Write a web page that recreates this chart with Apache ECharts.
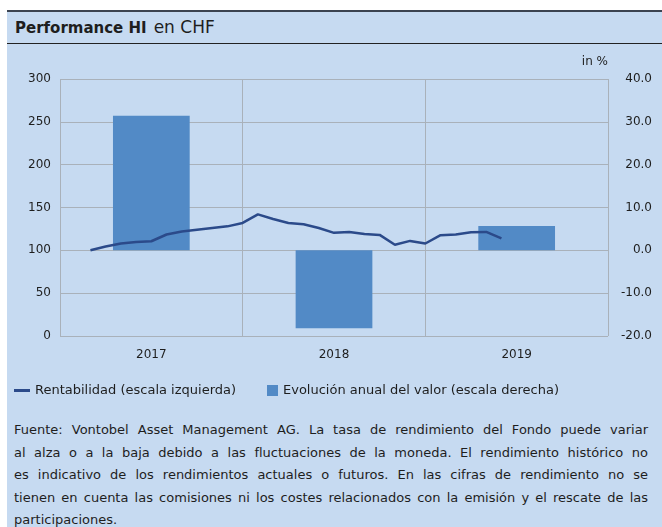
<!DOCTYPE html>
<html lang="es">
  <head>
    <meta charset="UTF-8" />
    <title>Performance HI en CHF</title>
    <script src="https://cdn.jsdelivr.net/npm/echarts@6.0.0/dist/echarts.min.js"></script>
    <style>
      body { margin: 0; background: #fff; font-family: 'DejaVu Sans', sans-serif; color: #1e1e1e; }
      #panel { position: absolute; left: 7px; top: 10px; width: 655px; height: 517px; background: #c6daf1; }
      #head { position: absolute; left: 7px; top: 10px; width: 655px; height: 31px; border-top: 2px solid #3b4350; border-bottom: 1px solid #222; }
      #head span { position: absolute; left: 8px; top: 5px; white-space: nowrap; }
      #head b { font-size: 15px; }
      #head i { font-style: normal; font-size: 17px; margin-left: 7px; }
      #chart { position: absolute; left: 0; top: 0; width: 662px; height: 410px; }
      #foot { position: absolute; left: 14px; top: 419px; width: 634px; font-size: 13px; line-height: 22.5px; }
      #foot div { text-align: justify; text-align-last: justify; white-space: nowrap; }
      #foot div.last { text-align-last: left; }
    </style>
  </head>
  <body>
    <div id="panel"></div>
    <div id="head"><span><b>Performance HI</b><i>en CHF</i></span></div>
    <div id="chart"></div>
    <div id="foot">
      <div>Fuente: Vontobel Asset Management AG. La tasa de rendimiento del Fondo puede variar</div>
      <div>al alza o a la baja debido a las fluctuaciones de la moneda. El rendimiento histórico no</div>
      <div>es indicativo de los rendimientos actuales o futuros. En las cifras de rendimiento no se</div>
      <div>tienen en cuenta las comisiones ni los costes relacionados con la emisión y el rescate de las</div>
      <div class="last">participaciones.</div>
    </div>
    <script>
      // años (categorías) y evolución anual en %
      var years = ['2017', '2018', '2019']
      var yearlyPerf = [31.4, -18.2, 5.7]
      // rentabilidad mensual indexada (primer mes = 2, contando desde ene 2017)
      var firstMonth = 2
      var perfIndex = [
        100, 104.5, 108, 109.6, 110.6, 118.5, 122, 124, 126, 128, 132, 142,
        136.5, 132, 130.4, 126, 120.4, 121.5, 119, 118, 106.5, 111, 108,
        117.7, 118.5, 121, 121.5, 114
      ]
      var lineName = 'Rentabilidad (escala izquierda)'
      var barName = 'Evolución anual del valor (escala derecha)'

      var linePoints = perfIndex.map(function (v, i) {
        return [firstMonth + i, v]
      })

      var txt = { color: '#1e1e1e', fontFamily: 'DejaVu Sans', fontSize: 12 }
      var legTxt = { color: '#1e1e1e', fontFamily: 'DejaVu Sans', fontSize: 13 }
      var grid = '#a9b1ba'

      var myChart = echarts.init(document.getElementById('chart'))
      var option = {
        animation: false,
        textStyle: { fontFamily: 'DejaVu Sans' },
        grid: { left: 60, right: 54, top: 79, bottom: 74, containLabel: false },
        legend: [
          {
            data: [lineName],
            left: 14, top: 384, padding: 0,
            icon: 'rect', itemWidth: 16, itemHeight: 3, itemGap: 6,
            textStyle: legTxt
          },
          {
            data: [barName],
            left: 267, top: 384, padding: 0,
            icon: 'rect', itemWidth: 11, itemHeight: 11, itemGap: 5,
            textStyle: legTxt
          }
        ],
        xAxis: [
          {
            type: 'category',
            data: years,
            axisLine: { show: false },
            axisTick: { show: false },
            axisLabel: Object.assign({ margin: 13 }, txt),
            splitLine: { show: true, lineStyle: { color: grid, width: 1 } }
          },
          { type: 'value', min: 0, max: 36, show: false }
        ],
        yAxis: [
          {
            type: 'value', min: 0, max: 300, interval: 50,
            axisLine: { show: false }, axisTick: { show: false },
            axisLabel: Object.assign({ margin: 9 }, txt),
            splitLine: { lineStyle: { color: grid, width: 1 } }
          },
          {
            type: 'value', min: -20, max: 40, interval: 10, position: 'right',
            name: 'in %', nameGap: 11,
            nameTextStyle: Object.assign({ align: 'right' }, txt),
            axisLine: { show: false }, axisTick: { show: false },
            axisLabel: Object.assign({ margin: 44, align: 'right', formatter: function (v) { return v.toFixed(1) } }, txt),
            splitLine: { show: false }
          }
        ],
        series: [
          {
            name: barName,
            type: 'bar',
            xAxisIndex: 0, yAxisIndex: 1,
            data: yearlyPerf,
            barWidth: '42%',
            itemStyle: { color: '#528ac6' },
            z: 2
          },
          {
            name: lineName,
            type: 'line',
            xAxisIndex: 1, yAxisIndex: 0,
            data: linePoints,
            showSymbol: false,
            lineStyle: { color: '#2b4a8a', width: 2.5 },
            itemStyle: { color: '#2b4a8a' },
            z: 3
          }
        ]
      }
      myChart.setOption(option)
    </script>
  </body>
</html>
